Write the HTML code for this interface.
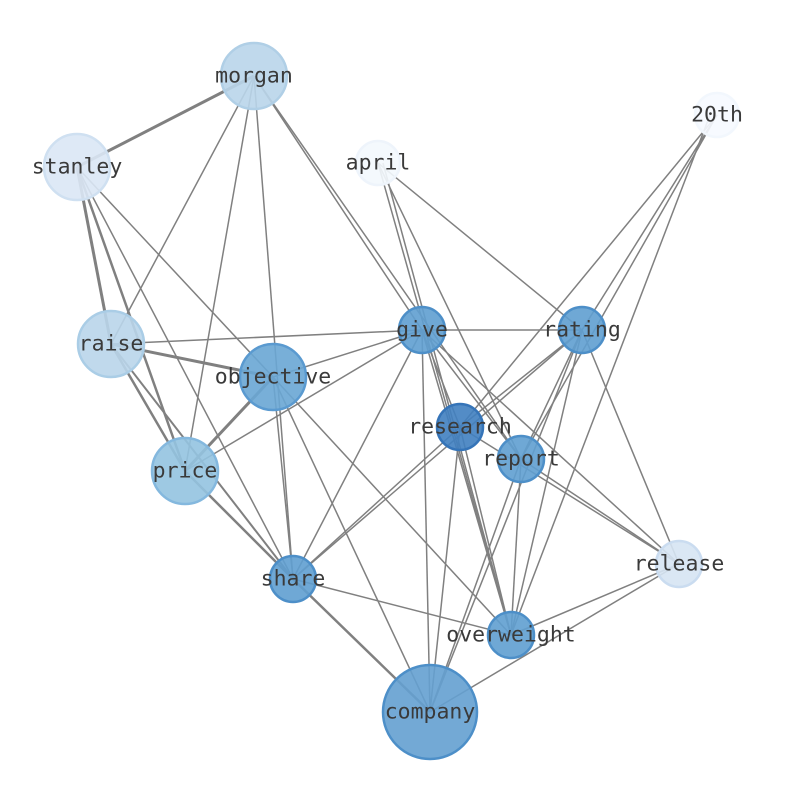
<!DOCTYPE html>
<html><head><style>body{margin:0;background:#fff}svg{display:block}</style></head><body>
<svg width="794" height="790" xmlns="http://www.w3.org/2000/svg">
<g stroke="#808080" stroke-width="1.5" fill="none">
<line x1="254" y1="76" x2="77" y2="167" stroke-width="3"/>
<line x1="254" y1="76" x2="111" y2="344"/>
<line x1="254" y1="76" x2="185" y2="471"/>
<line x1="254" y1="76" x2="293" y2="579"/>
<line x1="254" y1="76" x2="422" y2="330"/>
<line x1="254" y1="76" x2="521" y2="459"/>
<line x1="77" y1="167" x2="111" y2="344" stroke-width="3"/>
<line x1="77" y1="167" x2="185" y2="471" stroke-width="2.5"/>
<line x1="77" y1="167" x2="293" y2="579"/>
<line x1="77" y1="167" x2="273" y2="377"/>
<line x1="378" y1="163" x2="511" y2="635"/>
<line x1="383" y1="163" x2="511" y2="635"/>
<line x1="378" y1="163" x2="521" y2="459"/>
<line x1="378" y1="163" x2="582" y2="330"/>
<line x1="717" y1="115" x2="460" y2="427"/>
<line x1="717" y1="115" x2="582" y2="330"/>
<line x1="710" y1="115" x2="511" y2="635"/>
<line x1="717" y1="115" x2="521" y2="459"/>
<line x1="111" y1="344" x2="422" y2="330"/>
<line x1="111" y1="344" x2="273" y2="377" stroke-width="3"/>
<line x1="111" y1="344" x2="185" y2="471" stroke-width="2.5"/>
<line x1="111" y1="344" x2="293" y2="579" stroke-width="2"/>
<line x1="273" y1="377" x2="185" y2="471" stroke-width="3"/>
<line x1="273" y1="377" x2="422" y2="330"/>
<line x1="273" y1="377" x2="511" y2="635"/>
<line x1="273" y1="377" x2="293" y2="579"/>
<line x1="273" y1="377" x2="430" y2="712"/>
<line x1="185" y1="471" x2="422" y2="330"/>
<line x1="185" y1="471" x2="293" y2="579" stroke-width="2.5"/>
<line x1="422" y1="330" x2="582" y2="330"/>
<line x1="422" y1="330" x2="460" y2="427"/>
<line x1="422" y1="330" x2="521" y2="459"/>
<line x1="422" y1="330" x2="511" y2="635"/>
<line x1="422" y1="330" x2="430" y2="712"/>
<line x1="422" y1="330" x2="293" y2="579"/>
<line x1="422" y1="330" x2="679" y2="564"/>
<line x1="582" y1="330" x2="460" y2="427"/>
<line x1="582" y1="330" x2="521" y2="459"/>
<line x1="582" y1="330" x2="511" y2="635"/>
<line x1="582" y1="330" x2="430" y2="712"/>
<line x1="582" y1="330" x2="679" y2="564"/>
<line x1="582" y1="330" x2="293" y2="579"/>
<line x1="460" y1="427" x2="293" y2="579"/>
<line x1="460" y1="427" x2="430" y2="712"/>
<line x1="460" y1="427" x2="511" y2="635"/>
<line x1="460" y1="427" x2="679" y2="564"/>
<line x1="521" y1="459" x2="679" y2="564"/>
<line x1="521" y1="459" x2="430" y2="712"/>
<line x1="521" y1="459" x2="511" y2="635"/>
<line x1="293" y1="579" x2="430" y2="712" stroke-width="2.5"/>
<line x1="293" y1="579" x2="511" y2="635"/>
<line x1="511" y1="635" x2="679" y2="564"/>
<line x1="430" y1="712" x2="679" y2="564"/>
</g>
<g stroke-width="2.5" fill-opacity="0.9">
<circle cx="254" cy="76" r="33" fill="#b9d5ea" stroke="#b0cfe6"/>
<circle cx="77" cy="167" r="33" fill="#dae7f5" stroke="#cfe0f1"/>
<circle cx="378" cy="163" r="22" fill="#f3f8fd" stroke="#eef4fb"/>
<circle cx="717" cy="115" r="22" fill="#f6faff" stroke="#f2f7fd"/>
<circle cx="111" cy="344" r="33" fill="#b9d5ea" stroke="#aacde6"/>
<circle cx="273" cy="377" r="33" fill="#69a6d4" stroke="#5a9ad0"/>
<circle cx="185" cy="471" r="33" fill="#94c3e0" stroke="#84b8de"/>
<circle cx="422" cy="330" r="23" fill="#5f9fd0" stroke="#4d8fc8"/>
<circle cx="582" cy="330" r="23" fill="#5f9fd0" stroke="#4d8fc8"/>
<circle cx="460" cy="427" r="23" fill="#4080c0" stroke="#3574b8"/>
<circle cx="521" cy="459" r="23" fill="#5f9fd0" stroke="#4d8fc8"/>
<circle cx="293" cy="579" r="23" fill="#5f9fd0" stroke="#4d8fc8"/>
<circle cx="511" cy="635" r="23" fill="#5f9fd0" stroke="#4d8fc8"/>
<circle cx="679" cy="564" r="23" fill="#d6e4f3" stroke="#cadcf0"/>
<circle cx="430" cy="712" r="47" fill="#64a0d0" stroke="#4d8fc8"/>
</g>
<g font-family="'DejaVu Sans Mono','Liberation Mono',monospace" font-size="21.5" fill="#3a3a3a" text-anchor="middle" dominant-baseline="central">
<text x="254" y="76">morgan</text>
<text x="77" y="167">stanley</text>
<text x="378" y="163">april</text>
<text x="717" y="115">20th</text>
<text x="111" y="344">raise</text>
<text x="273" y="377">objective</text>
<text x="185" y="471">price</text>
<text x="422" y="330">give</text>
<text x="582" y="330">rating</text>
<text x="460" y="427">research</text>
<text x="521" y="459">report</text>
<text x="293" y="579">share</text>
<text x="511" y="635">overweight</text>
<text x="679" y="564">release</text>
<text x="430" y="712">company</text>
</g>
</svg>
</body></html>
